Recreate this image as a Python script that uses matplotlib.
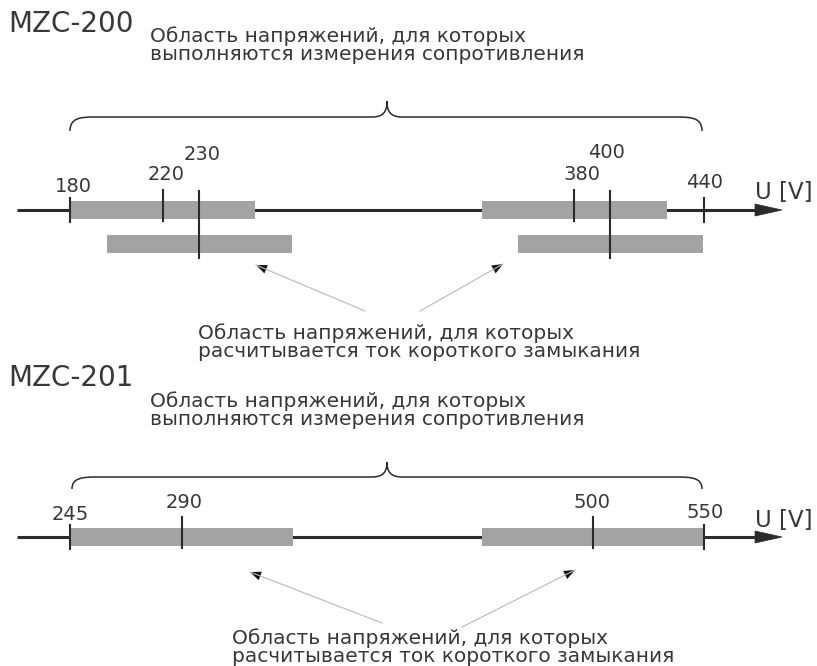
import matplotlib
matplotlib.use('Agg')
import matplotlib.pyplot as plt
from matplotlib.path import Path
from matplotlib.patches import PathPatch, Rectangle, Polygon

plt.rcParams['font.family'] = ['DejaVu Sans']

# MZC-200: отметки напряжения и их место на схеме
top_vals = [180, 220, 230, 380, 400, 440]
top_pos = [70, 163, 199, 574, 610, 704]
top_kind = ['end', 'mid', 'long', 'mid', 'long', 'end']
top_r_bars = [(70, 255), (482, 667)]     # измерение сопротивления
top_sc_bars = [(107, 292), (518, 703)]   # ток короткого замыкания

# MZC-201
bot_vals = [245, 290, 500, 550]
bot_pos = [70, 182, 593, 704]
bot_kind = ['end', 'mid', 'mid', 'end']
bot_r_bars = [(70, 293), (482, 705)]

txt_r = ['Область напряжений, для которых', 'выполняются измерения сопротивления']
txt_sc = ['Область напряжений, для которых', 'расчитывается ток короткого замыкания']

# подписи: сдвиг по x и высота над осью
top_lbl = [(3, -23), (3, -36), (3, -55), (8, -35), (-3, -57), (1, -27)]
bot_lbl = [(0, -22), (2, -35), (-1, -34), (1, -25)]

GRAY = '#a3a3a3'
DARK = '#2b2b2b'
TXT = '#383838'
FS = 14.5

fig = plt.figure(figsize=(8.17, 6.66), dpi=100)
ax = fig.add_axes([0, 0, 1, 1])
ax.set_xlim(0, 817)
ax.set_ylim(666, 0)
ax.axis('off')


def brace(x0, x1, xm, y_end, y_line, y_tip):
    verts = [(x0, y_end), (x0, y_line + 1), (x0 + 10, y_line), (x0 + 25, y_line),
             (xm - 15, y_line),
             (xm - 3, y_line), (xm, y_line - 6), (xm, y_tip),
             (xm, y_line - 6), (xm + 3, y_line), (xm + 15, y_line),
             (x1 - 25, y_line),
             (x1 - 10, y_line), (x1, y_line + 1), (x1, y_end)]
    codes = [Path.MOVETO, Path.CURVE4, Path.CURVE4, Path.CURVE4, Path.LINETO,
             Path.CURVE4, Path.CURVE4, Path.CURVE4,
             Path.CURVE4, Path.CURVE4, Path.CURVE4, Path.LINETO,
             Path.CURVE4, Path.CURVE4, Path.CURVE4]
    ax.add_patch(PathPatch(Path(verts, codes), fill=False, ec=DARK, lw=1.1))


def axis_line(y):
    ax.plot([17, 758], [y, y], color=DARK, lw=2.2, solid_capstyle='butt', zorder=1)
    ax.add_patch(Polygon([(755, y - 6), (782, y), (755, y + 6)], closed=True,
                         fc=DARK, ec=DARK, lw=0.5, zorder=3))
    ax.text(755, y - 17, 'U [V]', fontsize=16.5, color=TXT, ha='left', va='center')


def pointer(tail, head):
    ax.plot([tail[0], head[0]], [tail[1], head[1]], color='#b8b8b8', lw=0.8)
    dx, dy = head[0] - tail[0], head[1] - tail[1]
    n = (dx ** 2 + dy ** 2) ** 0.5
    ux, uy = dx / n, dy / n
    L, W = 11, 4.5
    bx, by = head[0] - ux * L, head[1] - uy * L
    ax.add_patch(Polygon([head, (bx - uy * W, by + ux * W), (bx + uy * W, by - ux * W)],
                         closed=True, fc='#111111', ec='none'))


def marks(vals, pos, kind, lbl, y):
    ext = {'end': (-12, 12), 'mid': (-20, 11), 'long': (-19, 48)}
    for v, x, k, (ldx, ldy) in zip(vals, pos, kind, lbl):
        a, b = ext[k]
        ax.plot([x, x], [y + a, y + b], color=DARK, lw=1.5, zorder=4)
        ax.text(x + ldx, y + ldy, str(v), fontsize=14, color=TXT, ha='center', va='center')


def bars(spans, yc, h=18):
    for a, b in spans:
        ax.add_patch(Rectangle((a, yc - h / 2), b - a, h, fc=GRAY, ec='none', zorder=2))


def two_lines(x, y, lines, gap=18.5):
    for i, s in enumerate(lines):
        ax.text(x, y + i * gap, s, fontsize=FS, color=TXT, ha='left', va='center')


# ---- MZC-200
ax.text(8, 24, 'MZC-200', fontsize=20, color=TXT, ha='left', va='center')
two_lines(150, 36, txt_r)
brace(70, 702, 387, 131, 117, 101)
y1 = 210
axis_line(y1)
bars(top_r_bars, y1)
bars(top_sc_bars, 244)
marks(top_vals, top_pos, top_kind, top_lbl, y1)
pointer((365, 311), (256, 265))
pointer((420, 311), (503, 264))
two_lines(198, 333, txt_sc)

# ---- MZC-201
ax.text(8, 378, 'MZC-201', fontsize=20, color=TXT, ha='left', va='center')
two_lines(150, 401, txt_r)
brace(72, 702, 387, 489, 477, 462)
y2 = 537
axis_line(y2)
bars(bot_r_bars, y2)
marks(bot_vals, bot_pos, bot_kind, bot_lbl, y2)
pointer((382, 623), (250, 572))
pointer((462, 627), (575, 570))
two_lines(232, 638, txt_sc, gap=19)

fig.savefig('out.png', dpi=100)
